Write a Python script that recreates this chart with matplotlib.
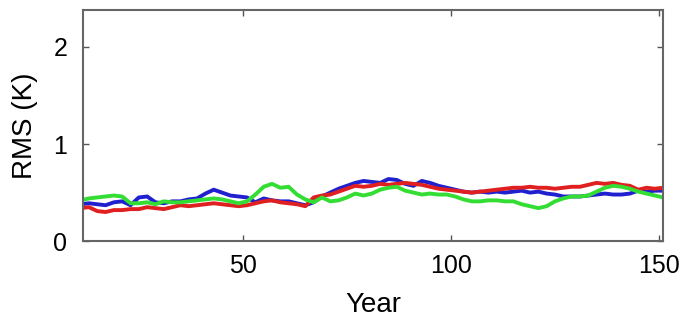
import numpy as np
import matplotlib
matplotlib.use("Agg")
import matplotlib.pyplot as plt

plt.rcParams['font.family'] = ['Liberation Sans', 'DejaVu Sans']

# years on a 2-year grid
years = list(range(11, 152, 2))

blue = [0.38, 0.39, 0.38, 0.37, 0.40, 0.41, 0.37, 0.45, 0.46, 0.40,
        0.39, 0.41, 0.41, 0.43, 0.44, 0.49, 0.53, 0.50, 0.47, 0.46,
        0.45, 0.40, 0.44, 0.42, 0.41, 0.41, 0.39, 0.37, 0.40, 0.46,
        0.50, 0.54, 0.57, 0.60, 0.62, 0.61, 0.60, 0.64, 0.63, 0.59,
        0.57, 0.62, 0.60, 0.57, 0.55, 0.53, 0.51, 0.50, 0.51, 0.50,
        0.51, 0.50, 0.51, 0.52, 0.50, 0.51, 0.49, 0.48, 0.46, 0.46,
        0.46, 0.47, 0.48, 0.49, 0.48, 0.48, 0.49, 0.52, 0.51, 0.52, 0.52]

red = [0.34, 0.35, 0.31, 0.30, 0.32, 0.32, 0.33, 0.33, 0.35, 0.34,
       0.33, 0.35, 0.37, 0.36, 0.37, 0.38, 0.39, 0.38, 0.37, 0.36,
       0.37, 0.39, 0.41, 0.42, 0.40, 0.39, 0.38, 0.36, 0.45, 0.47,
       0.48, 0.51, 0.54, 0.57, 0.56, 0.57, 0.59, 0.58, 0.59, 0.60,
       0.59, 0.58, 0.56, 0.54, 0.53, 0.52, 0.51, 0.50, 0.51, 0.52,
       0.53, 0.54, 0.55, 0.55, 0.56, 0.55, 0.55, 0.54, 0.55, 0.56,
       0.56, 0.58, 0.60, 0.59, 0.60, 0.58, 0.57, 0.53, 0.55, 0.54, 0.55]

green = [0.42, 0.44, 0.45, 0.46, 0.47, 0.46, 0.39, 0.39, 0.40, 0.38,
         0.41, 0.40, 0.40, 0.41, 0.42, 0.43, 0.44, 0.43, 0.41, 0.39,
         0.41, 0.48, 0.56, 0.59, 0.55, 0.56, 0.48, 0.43, 0.40, 0.45,
         0.41, 0.42, 0.45, 0.49, 0.47, 0.49, 0.53, 0.55, 0.56, 0.52,
         0.50, 0.48, 0.49, 0.48, 0.48, 0.46, 0.43, 0.41, 0.41, 0.42,
         0.42, 0.41, 0.41, 0.38, 0.36, 0.34, 0.36, 0.41, 0.44, 0.46,
         0.46, 0.47, 0.51, 0.55, 0.57, 0.56, 0.54, 0.51, 0.49, 0.47, 0.45]

xticks = [50, 100, 150]
yticks = [0, 1, 2]

fig = plt.figure(figsize=(6.83, 3.25), dpi=100)
ax = fig.add_axes([0.121, 0.258, 0.850, 0.711])

ax.plot(years, blue, color='#2020d0', lw=2.8)
ax.plot(years, red, color='#e02020', lw=2.8)
ax.plot(years, green, color='#33dd33', lw=2.8)

ax.set_xlim(11.5, 151)
ax.set_ylim(0, 2.38)
ax.set_xticks(xticks)
ax.set_yticks(yticks)
ax.tick_params(direction='in', length=4, width=1, color='#555555',
               labelsize=18, top=True, right=True)
ax.tick_params(axis='x', pad=9)
ax.tick_params(axis='y', pad=11)
for s in ax.spines.values():
    s.set_color('#666666')
    s.set_linewidth(1.5)

ax.set_xlabel('Year', fontsize=20, labelpad=10)
ax.set_ylabel('RMS (K)', fontsize=20, labelpad=11)

fig.savefig('out.png', dpi=100)
